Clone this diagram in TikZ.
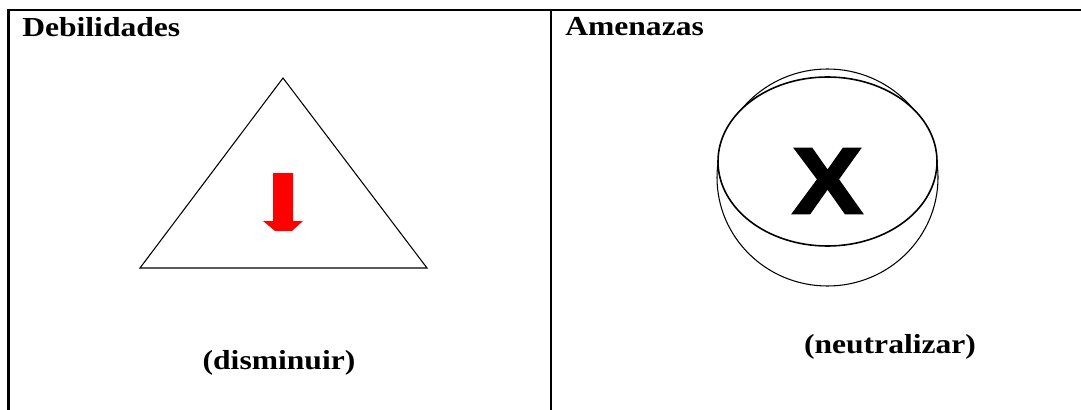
\documentclass[tikz,border=0pt]{standalone}
\usepackage{graphicx}
\usepackage{fontspec}
\setmainfont{Liberation Serif}
\newfontfamily\cruzfont[FakeBold=2.5]{Liberation Sans}
\usetikzlibrary{shapes}
\usetikzlibrary{arrows}

\begin{document}
\begin{tikzpicture}[x=0.75pt,y=-0.75pt]
                \tikzset{titulo/.style = {anchor=base west,inner sep=0pt,font=\bfseries\fontsize{20.6}{24}\selectfont}}
                \tikzset{nota/.style = {anchor=base,inner sep=0pt,font=\bfseries\fontsize{20.6}{24}\selectfont}}
                \tikzset{marco/.style = {line width=1.6pt}}
                \tikzset{figura/.style = {line width=0.8pt}}

                \useasboundingbox (0,0) rectangle (1081,410);

                \coordinate (a1) at (7,9.7);
                \coordinate (a2) at (1081,9.7);
                \coordinate (i1) at (8.5,8.9);
                \coordinate (i2) at (8.5,410);
                \coordinate (m1) at (551,8.9);
                \coordinate (m2) at (551,410);

                \draw[marco] (a1) -- (a2);
                \draw[marco] (i1) -- (i2);
                \draw[marco] (m1) -- (m2);

                \node[titulo] (deb) at (22,37) {\scalebox{1.15}[1]{Debilidades}};
                \node[titulo] (ame) at (565,35.5) {\scalebox{1.15}[1]{Amenazas}};

                % triangulo con flecha
                \draw[figura] (283,78) -- (427,268) -- (140,268) -- cycle;
                \fill[red] (273,173) -- (293,173) -- (293,221) -- (303,221) -- (292,231)
                    -- (275,231) -- (263,221) -- (273,221) -- cycle;

                % circulo y elipse
                \draw[figura] (827.5,177.5) ellipse [x radius=110.5, y radius=108.5];
                \draw[line width=1.2pt,fill=white] (827.5,161.5) ellipse [x radius=109.5, y radius=84.5];
                \node[inner sep=0pt,font=\cruzfont\bfseries\fontsize{70}{80}\selectfont] (cruz) at (827.5,181) {\scalebox{1.12}[1]{X}};

                \node[nota] (dis) at (279,369) {\scalebox{1.15}[1]{(disminuir)}};
                \node[nota] (neu) at (890,353) {\scalebox{1.15}[1]{(neutralizar)}};

        \end{tikzpicture}
\end{document}
